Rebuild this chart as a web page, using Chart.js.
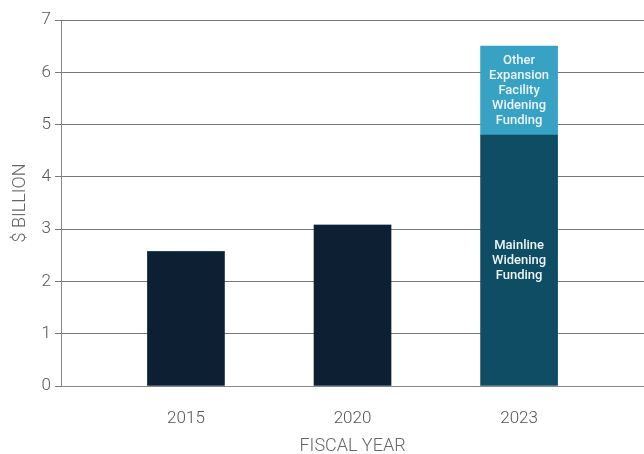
<!DOCTYPE html>
<html>
<head>
<meta charset="utf-8">
<script src="https://cdn.jsdelivr.net/npm/chart.js@4/dist/chart.umd.min.js"></script>
<style>
  html, body { margin: 0; padding: 0; background: #fff; }
  #wrap { width: 644px; height: 454px; }
</style>
</head>
<body>
<div id="wrap"><canvas id="myChart" width="644" height="454"></canvas></div>
<script>
const years = ['2015', '2020', '2023'];
const mainValues = [2.57, 3.08, 4.8];
const otherValues = [0, 0, 1.7];
const mainColors = ['#0c1f33', '#0c1f33', '#0f4d64'];
const otherColor = '#37a2c3';
const mainText = [null, null, ['Mainline', 'Widening', 'Funding']];
const otherText = [null, null, ['Other', 'Expansion', 'Facility', 'Widening', 'Funding']];
const yTicks = [0, 1, 2, 3, 4, 5, 6, 7];

const font = "Roboto, 'DejaVu Sans', sans-serif";

// writes the segment names inside the bars
const barText = {
    id: 'barText',
    afterDatasetsDraw(chart) {
        const ctx = chart.ctx;
        const texts = [mainText, otherText];
        ctx.save();
        ctx.fillStyle = '#eef5f8';
        ctx.font = "500 13px " + font;
        ctx.textAlign = 'center';
        ctx.textBaseline = 'middle';
        texts.forEach((list, d) => {
            const meta = chart.getDatasetMeta(d);
            meta.data.forEach((bar, i) => {
                if (!list[i]) return;
                const mid = (bar.y + bar.base) / 2;
                const lh = 15;
                list[i].forEach((line, k) => {
                    ctx.fillText(line, bar.x, mid + (k - (list[i].length - 1) / 2) * lh);
                });
            });
        });
        ctx.restore();
    }
};

const data = {
    datasets: [{
        label: 'Mainline Widening Funding',
        data: mainValues.map((v, i) => ({ x: i, y: v })),
        backgroundColor: mainColors,
        barThickness: 77
    }, {
        label: 'Other Expansion Facility Widening Funding',
        data: otherValues.map((v, i) => ({ x: i, y: v })),
        backgroundColor: otherColor,
        barThickness: 77
    }]
};

const config = {
    type: 'bar',
    data: data,
    plugins: [barText],
    options: {
        responsive: false,
        animation: false,
        layout: { padding: { top: 20, right: 0, left: 10, bottom: 0 } },
        plugins: {
            legend: { display: false },
            tooltip: { enabled: false }
        },
        scales: {
            x: {
                type: 'linear',
                stacked: true,
                offset: false,
                min: -0.75,
                max: 2.75,
                afterBuildTicks: (axis) => { axis.ticks = years.map((y, i) => ({ value: i })); },
                ticks: {
                    callback: (v) => years[v],
                    color: '#555',
                    font: { family: font, size: 17, weight: 300 },
                    padding: 15
                },
                grid: { display: false },
                border: { display: true, color: '#888', width: 1 },
                title: {
                    display: true,
                    text: 'FISCAL YEAR',
                    color: '#666',
                    font: { family: font, size: 18, weight: 300 },
                    padding: { top: -9, bottom: -3 }
                }
            },
            y: {
                stacked: true,
                min: 0,
                max: 7,
                afterBuildTicks: (axis) => { axis.ticks = yTicks.map(v => ({ value: v })); },
                ticks: {
                    color: '#555',
                    font: { family: font, size: 17, weight: 300 },
                    padding: 4
                },
                grid: { color: '#777', lineWidth: 1, tickLength: 6 },
                border: { display: true, color: '#888', width: 1 },
                title: {
                    display: true,
                    text: '$ BILLION',
                    color: '#666',
                    font: { family: font, size: 18, weight: 300 },
                    padding: { top: 0, bottom: 6 }
                }
            }
        }
    }
};

new Chart(document.getElementById('myChart'), config);
</script>
</body>
</html>
